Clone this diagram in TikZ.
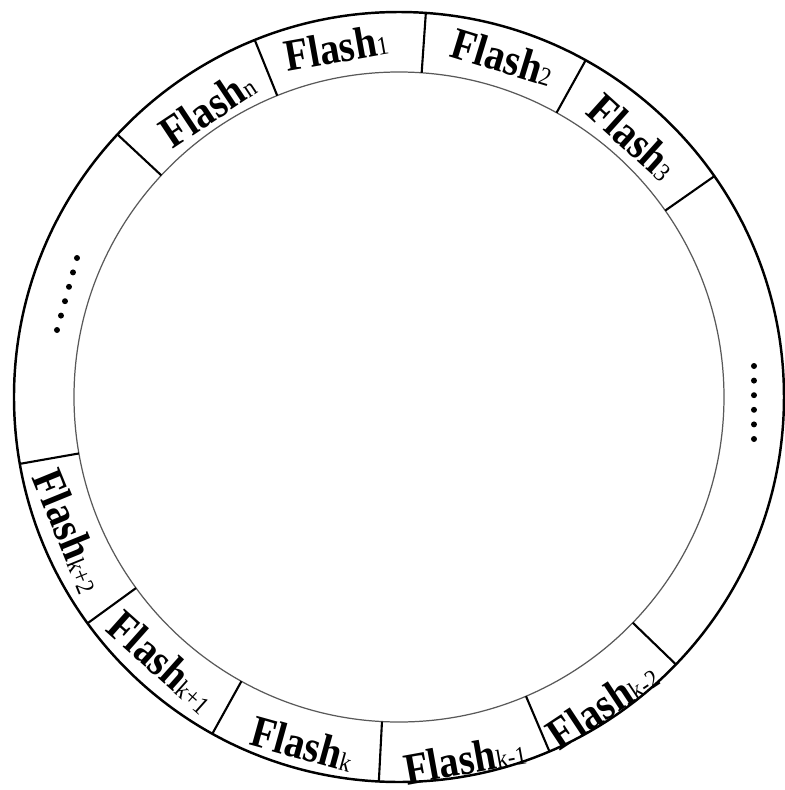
\documentclass[tikz,border=0pt]{standalone}
\usepackage{fontspec}
\setmainfont{Liberation Serif}
\usepackage{graphicx}
\usepackage{tikz}
\usetikzlibrary{positioning}

\tikzset{
  slot/.style={font=\fontsize{12.8}{13}\selectfont\bfseries, inner sep=0pt},
  rim/.style={line width=0.7pt},
  border/.style={line width=0.6pt},
}
\newcommand{\flash}[1]{\scalebox{0.88}[1]{Flash{\fontsize{7.4}{8}\selectfont\mdseries #1}}}

\begin{document}
\begin{tikzpicture}
  \useasboundingbox (-3.99,-3.93) rectangle (3.85,3.97);
  % ring
  \draw[rim] (0,0) circle (3.85);
  \draw[black!65, line width=0.35pt] (0,0) circle (3.25);
  % slot borders
  \foreach \a in {35,61,86,112,137,190,216,241,267,293,316}
    \draw[border] (\a:3.25) -- (\a:3.85);
  % upper slots, read from outside
  \foreach \a/\r/\s/\nm in {123.6/3.47/n/fln, 100.2/3.55/1/flone,
      73/3.555/2/fltwo, 48/3.5/3/flthree}
    \node[slot, rotate=\a-90] (\nm) at (\a:\r) {\flash{\s}};
  % lower slots, read from inside
  \foreach \a/\r/\s/\nm in {202.2/3.55/k+2/flkpp, 228.3/3.55/k+1/flkp,
      254.5/3.6/k/flk, 280.3/3.68/k-1/flkm, 303.5/3.69/k-2/flkmm}
    \node[slot, rotate=\a+90] (\nm) at (\a:\r) {\flash{\s}};
  % skipped slots
  \foreach \i in {0,...,5}
    \fill ({-3.22-0.04*\i},{1.39-0.144*\i}) circle (0.03);
  \foreach \i in {0,...,5}
    \fill (3.55,{0.31-0.146*\i}) circle (0.03);
\end{tikzpicture}
\end{document}
